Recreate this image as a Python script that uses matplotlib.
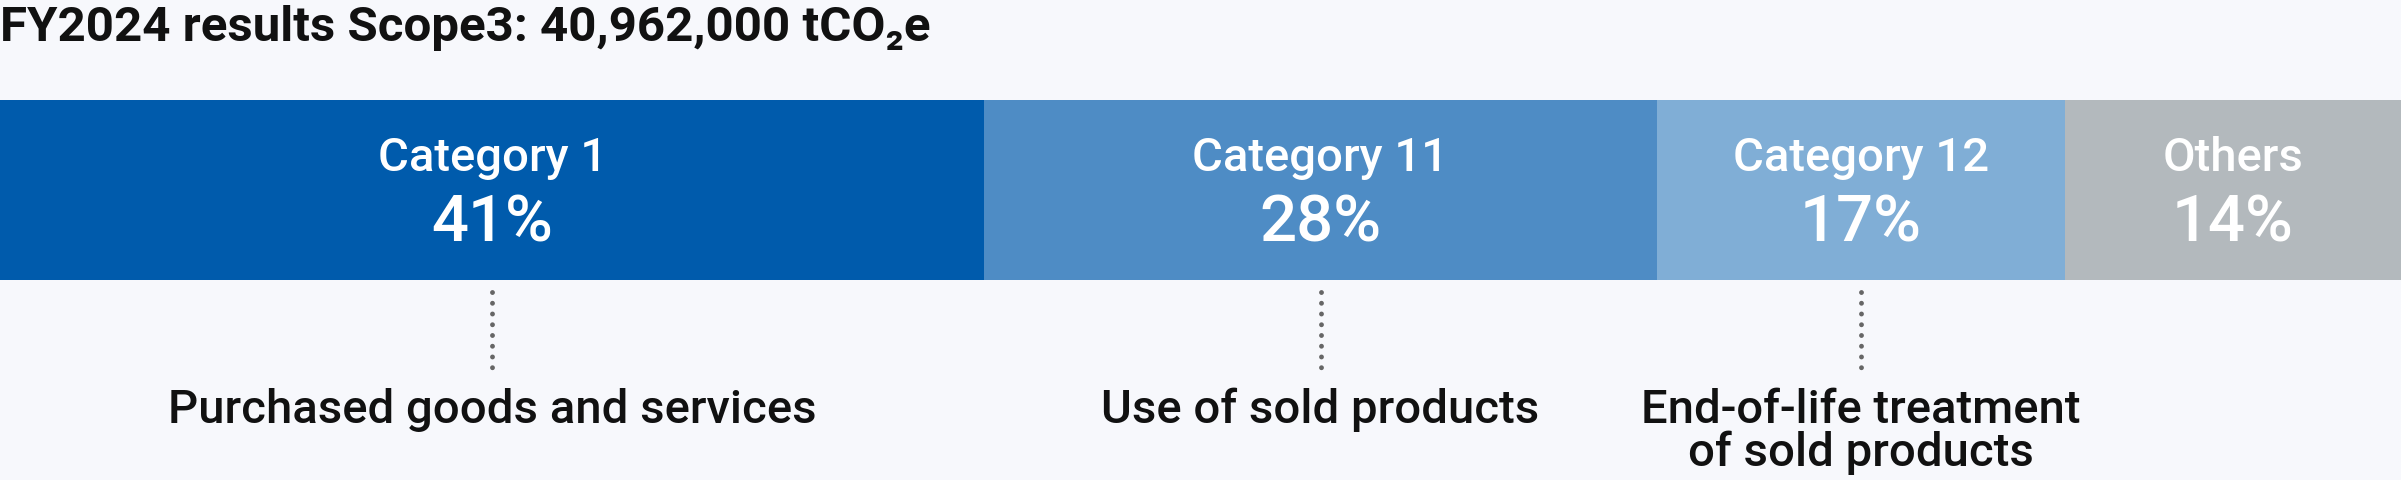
import matplotlib.pyplot as plt

# Scope3 breakdown, FY2024
categories = ['Category 1', 'Category 11', 'Category 12', 'Others']
shares = [41, 28, 17, 14]
descriptions = ['Purchased goods and services', 'Use of sold products',
                'End-of-life treatment\nof sold products', None]
colors = ['#005bac', '#4e8cc5', '#80aed6', '#b3b9bd']
title = 'FY2024 results Scope3: 40,962,000 tCO₂e'

W, H = 2401, 481
fig = plt.figure(figsize=(W / 100, H / 100), dpi=100, facecolor='#f7f8fc')
ax = fig.add_axes([0, 0, 1, 1])
ax.set_facecolor('#f7f8fc')
ax.set_xlim(0, sum(shares))
ax.set_ylim(H, 0)  # y in pixel rows, top down
ax.axis('off')

fam = ['Roboto', 'DejaVu Sans']

ax.text(0, 41, title, fontsize=35.5, family=fam, fontweight='bold',
        color='#111111', va='baseline', ha='left')

left = 0
for cat, val, desc, col in zip(categories, shares, descriptions, colors):
    ax.barh(191, val, left=left, height=180, color=col, edgecolor='none')
    mid = left + val / 2
    ax.text(mid, 171, cat, fontsize=34, family=fam, color='white',
            fontweight='medium', ha='center', va='baseline')
    ax.text(mid, 242, f'{val}%', fontsize=47, family=fam, color='white',
            fontweight='medium', ha='center', va='baseline')
    if desc:
        ax.plot([mid, mid], [293, 369], color='#666666', lw=3.5,
                linestyle=(0, (0.01, 2.2)), solid_capstyle='round',
                dash_capstyle='round')
        for i, line in enumerate(desc.split('\n')):
            ax.text(mid, 423 + i * 43, line, fontsize=34, family=fam,
                    fontweight='medium', color='#111111',
                    ha='center', va='baseline')
    left += val

fig.savefig('out.png', dpi=100, facecolor=fig.get_facecolor())
